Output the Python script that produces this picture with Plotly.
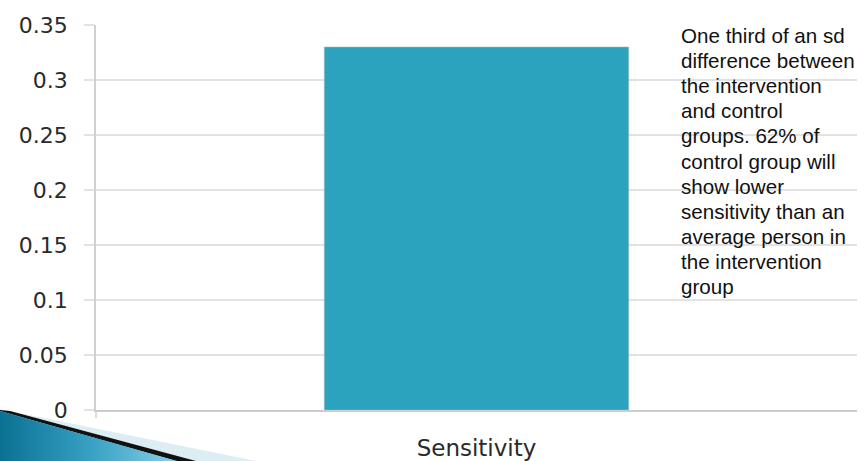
import plotly.graph_objects as go

# Effect size data
categories = ["Sensitivity"]
effect_sizes = [0.33]
y_ticks = [0, 0.05, 0.1, 0.15, 0.2, 0.25, 0.3, 0.35]
y_tick_labels = ["0", "0.05", "0.1", "0.15", "0.2", "0.25", "0.3", "0.35"]

note_lines = [
    "One third of an sd",
    "difference between",
    "the intervention",
    "and control",
    "groups. 62% of",
    "control group will",
    "show lower",
    "sensitivity than an",
    "average person in",
    "the intervention",
    "group",
]

W, H = 865, 461
BAR = "#2ba2be"
GRID = "#e2e2e2"
NOTE_SIZE = 20.6
NOTE_BASE, NOTE_STEP = 42.3, 25.1

fig = go.Figure()
fig.add_trace(go.Bar(
    x=categories, y=effect_sizes, width=0.4,
    marker=dict(color=BAR, line=dict(color="#9ab8c2", width=0.6)),
    xaxis="x", yaxis="y", showlegend=False,
))

# Slide decoration in the lower-left corner (pixel-space overlay axes)
fig.add_trace(go.Scatter(
    x=[0, 256, 0, 0], y=[409, 461, 461, 409], mode="lines", fill="toself",
    fillcolor="#dcedf4", line=dict(width=0), xaxis="x2", yaxis="y2",
    hoverinfo="skip", showlegend=False,
))
fig.add_trace(go.Scatter(
    x=[0, 10, 196, 176, 0], y=[410, 411, 461, 461, 411], mode="lines", fill="toself",
    fillcolor="#111111", line=dict(width=0), xaxis="x2", yaxis="y2",
    hoverinfo="skip", showlegend=False,
))
fig.add_trace(go.Scatter(
    x=[0, 177, 0, 0], y=[411, 461, 461, 411], mode="lines", fill="toself",
    fillgradient=dict(type="horizontal",
                      colorscale=[[0, "#0b7193"], [0.5, "#369fc2"], [1, "#86cfe5"]]),
    line=dict(width=0), xaxis="x2", yaxis="y2",
    hoverinfo="skip", showlegend=False,
))

x0, x1 = 96 / W, 857 / W
y0, y1 = (H - 410) / H, (H - 25) / H

annotations = [
    dict(text=line, xref="x2", yref="y2", x=679,
         y=NOTE_BASE + i * NOTE_STEP - 0.33 * NOTE_SIZE,
         xanchor="left", yanchor="middle", align="left", showarrow=False,
         font=dict(family="Liberation Sans, Arial", size=NOTE_SIZE, color="#111111"))
    for i, line in enumerate(note_lines)
]

fig.update_layout(
    width=W, height=H,
    margin=dict(l=0, r=0, t=0, b=0, autoexpand=False),
    paper_bgcolor="white", plot_bgcolor="rgba(0,0,0,0)",
    xaxis=dict(
        domain=[x0, x1], anchor="y", type="category", range=[-0.5, 0.5],
        showline=True, linecolor="#cccccc", linewidth=1.5,
        showgrid=False, ticks="", ticklabelstandoff=17, automargin=False,
        tickfont=dict(family="DejaVu Sans", size=23, color="#2a2a2a"),
        fixedrange=True,
    ),
    yaxis=dict(
        domain=[y0, y1], anchor="x", range=[0, 0.35],
        tickvals=y_ticks, ticktext=y_tick_labels,
        showgrid=True, gridcolor=GRID, gridwidth=2, zeroline=False,
        showline=True, linecolor="#d0d0d0", linewidth=1.5,
        ticks="outside", ticklen=10, tickwidth=2, tickcolor=GRID,
        ticklabelstandoff=12, automargin=False,
        tickfont=dict(family="DejaVu Sans", size=22, color="#2a2a2a"),
        fixedrange=True,
    ),
    xaxis2=dict(domain=[0, 1], anchor="y2", range=[0, W], visible=False,
                fixedrange=True, automargin=False),
    yaxis2=dict(domain=[0, 1], anchor="x2", range=[H, 0], visible=False,
                fixedrange=True, automargin=False),
    shapes=[dict(type="line", xref="x2", yref="y2", x0=96, x1=96, y0=410, y1=418,
                 line=dict(color="#d0d0d0", width=1.5))],
    annotations=annotations,
)

fig.write_html("out.html")
